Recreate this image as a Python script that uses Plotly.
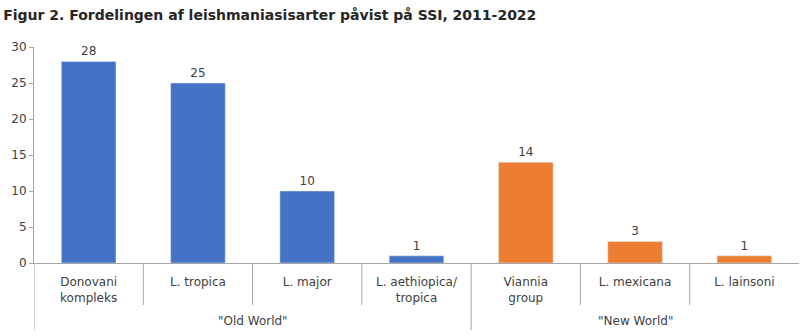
import plotly.graph_objects as go

categories = ["Donovani<br>kompleks", "L. tropica", "L. major", "L. aethiopica/<br>tropica",
              "Viannia<br>group", "L. mexicana", "L. lainsoni"]
values = [28, 25, 10, 1, 14, 3, 1]
groups = ['"Old World"', '"New World"']
group_sizes = [4, 3]
colors = ["#4472C4"] * 4 + ["#ED7D31"] * 3
yticks = [0, 5, 10, 15, 20, 25, 30]

FONT = "DejaVu Sans"
GRAY = "#A6A6A6"
TXT = "#404040"

x_idx = list(range(len(categories)))

fig = go.Figure()
fig.add_trace(go.Bar(
    x=x_idx, y=values, marker_color=colors, width=0.5,
    text=[str(v) for v in values], textposition="outside",
    textfont=dict(family=FONT, size=12, color=TXT),
    cliponaxis=False, hoverinfo="skip",
))

shapes = []
start = 0
bounds = []
for gs in group_sizes:
    bounds.append(start - 0.5)
    start += gs
for i in range(1, len(categories)):
    b = i - 0.5
    if b in bounds:
        continue
    shapes.append(dict(type="line", xref="x", yref="paper", x0=b, x1=b, y0=0, y1=-0.195,
                       line=dict(color=GRAY, width=1)))
for b in bounds:
    shapes.append(dict(type="line", xref="x", yref="paper", x0=b, x1=b, y0=0, y1=-0.31,
                       line=dict(color=GRAY, width=1)))

annotations = []
start = 0
for g, gs in zip(groups, group_sizes):
    center = start + (gs - 1) / 2
    annotations.append(dict(x=center, y=-0.268, xref="x", yref="paper", text=g,
                            showarrow=False, yanchor="middle",
                            font=dict(family=FONT, size=12, color=TXT)))
    start += gs

fig.update_layout(
    width=800, height=336,
    margin=dict(l=34, r=1, t=47, b=73),
    paper_bgcolor="white", plot_bgcolor="white",
    showlegend=False,
    title=dict(text="<b>Figur 2. Fordelingen af leishmaniasisarter påvist på SSI, 2011-2022</b>",
               x=0.004, xanchor="left", y=0.955, yanchor="middle",
               font=dict(family=FONT, size=14, color="#262626")),
    xaxis=dict(tickmode="array", tickvals=x_idx, ticktext=categories,
               range=[-0.5, len(categories) - 0.5], showline=True, linecolor=GRAY,
               ticks="", showgrid=False, zeroline=False, ticklabelstandoff=8,
               tickfont=dict(family=FONT, size=12, color=TXT)),
    yaxis=dict(range=[0, 30], tickvals=yticks, showline=True, linecolor=GRAY,
               ticks="outside", ticklen=4, tickcolor=GRAY, showgrid=False, zeroline=False,
               tickfont=dict(family=FONT, size=12, color=TXT)),
    shapes=shapes, annotations=annotations,
)

fig.write_html("out.html")
